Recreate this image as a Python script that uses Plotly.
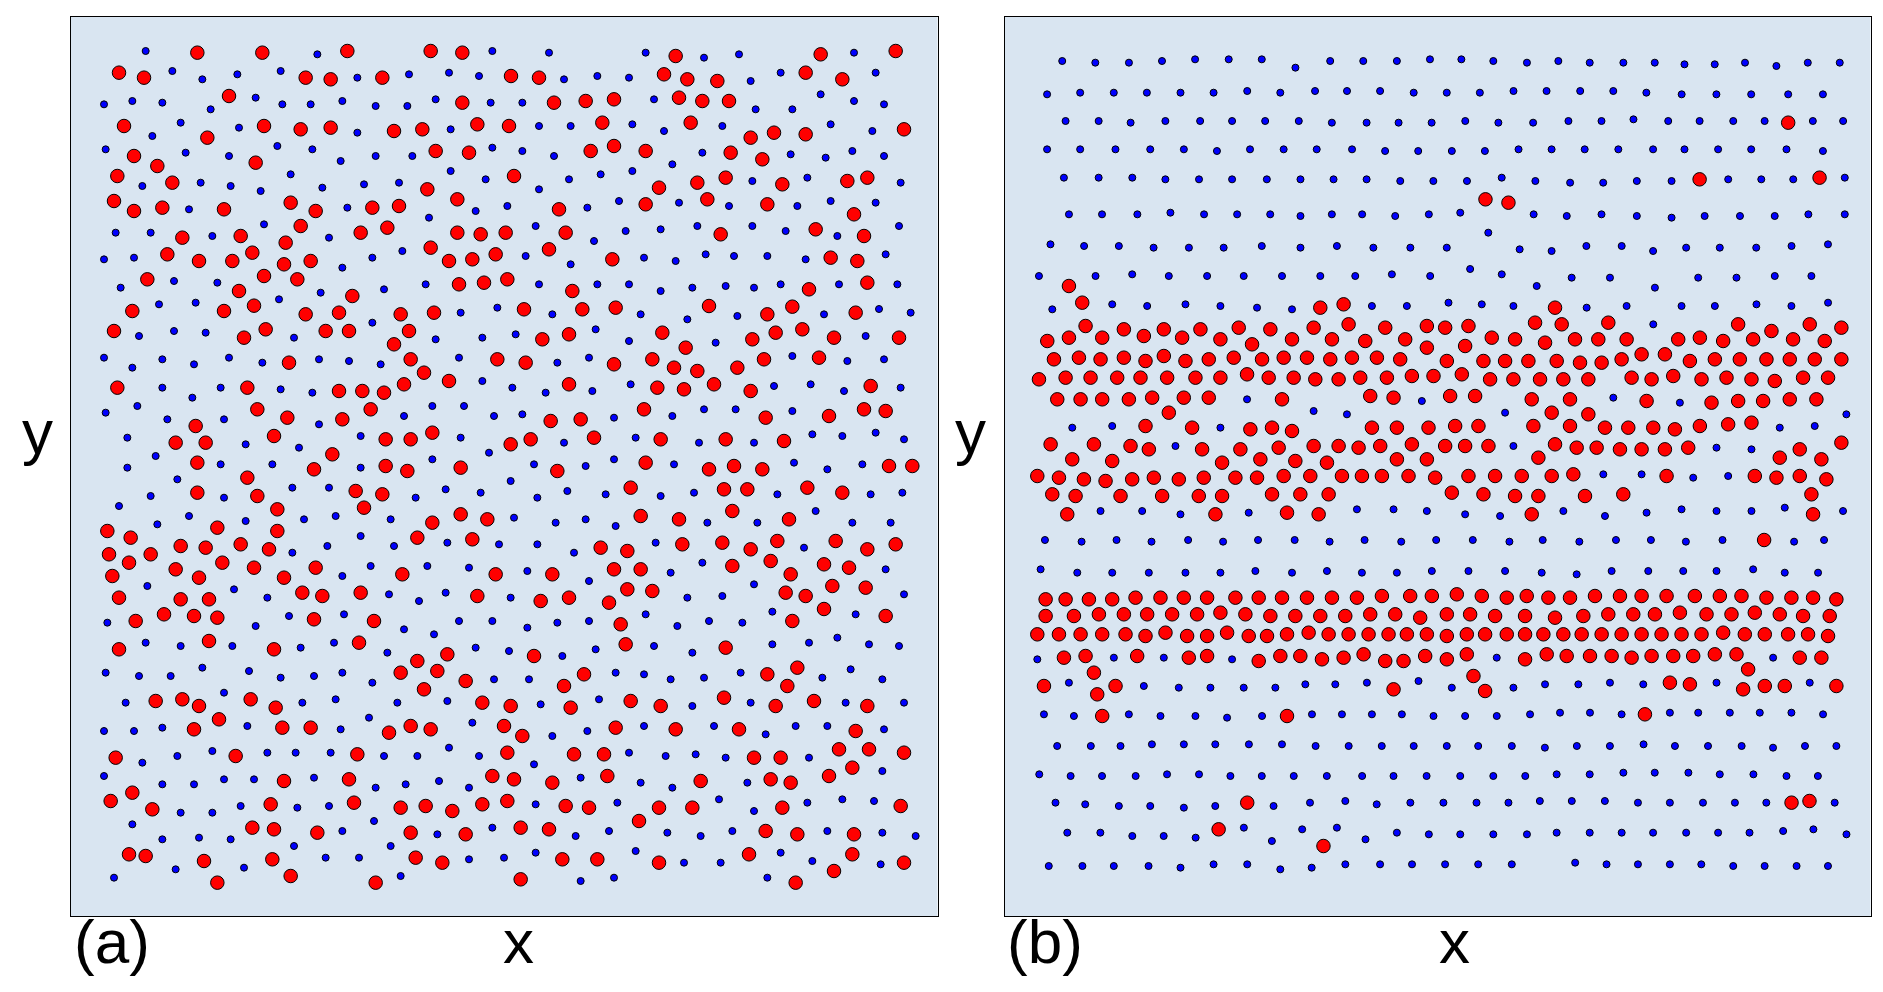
import plotly.graph_objects as go

# values, grouped by the crop they were read from
# (local crop readings, crop origins are in CROPS below)
a_red_nw = [(412,128),(607,128),(862,123),(1112,123),(1207,128),(177,188),(252,203),(737,203),(812,208),(967,203),
    (507,258),(1207,278),(192,348),(612,348),(722,358),(812,353),(1002,363),(1087,358),(1252,343),
    (442,383),(222,438),(1127,423),(1227,428),(292,468),(587,458),(172,498),(337,518),(1102,538),(1192,568),
    (162,573),(222,603),(307,593),(492,598),(692,578),(767,603),(937,593),(1017,588),
    (722,648),(982,653),(367,683),(542,678),(677,698),(902,668),(1192,668),(1262,673),
    (322,733),(577,728),(417,753),(517,753),(672,763),(752,753),(1112,713),(1167,753),(1237,748),(1307,733),
    (262,808),(612,798),(712,808),(537,843),(877,858),(1197,823),(1272,818),(582,887)]
a_blue_nw = [(257,123),(772,133),(1297,123),(337,183),(427,208),(532,193),(662,183),(892,203),(1047,193),(1167,188),(1257,198),
    (132,283),(217,273),(307,278),(452,298),(587,263),(667,283),(752,283),(847,273),(947,288),(1042,288),(1127,268),(1292,278),
    (362,338),(277,378),(537,353),(892,368),(1172,358),(137,418),(377,428),(507,438),(652,408),(757,418),(842,453),(947,438),(1057,438),(1297,413),
    (692,493),(1172,483),(1277,508),(247,528),(422,518),(512,528),(602,543),(787,533),(912,523),(1017,518),
    (387,598),(862,593),(1247,603),(612,643),(1107,623),(167,668),(272,668),(457,678),(807,683),
    (132,748),(222,743),(937,743),(1027,723),(847,773),(342,813),(182,833),(472,818),(782,848),(972,838),(1097,823),
    (297,883),(407,878),(657,868),(1312,893)]
a_red_ne = [(527,138),(962,133),(1187,123),(33,198),(117,203),(492,193),(562,208),(652,213),(917,188),(1027,208),
    (162,278),(257,273),(342,268),(537,263),(607,273),(687,273),(27,348),(307,338),(572,338),(752,383),(822,368),(917,373),(1212,358),
    (272,423),(342,408),(437,423),(692,428),(787,448),(42,498),(477,533),(592,518),(677,503),(847,523),(1042,513),(1102,503),
    (177,598),(437,583),(622,568),(802,583),(1062,613),(17,668),(197,668),(662,673),(947,658),(1092,678),
    (147,718),(337,748),(992,743),(1072,753),(22,808),(217,843),(927,838),(1102,818),
    (72,898),(247,898),(347,893),(627,888),(877,890)]
a_blue_ne = [(147,128),(437,128),(612,143),(717,133),(1062,128),(192,208),(292,198),(387,203),(752,213),(842,188),(1127,188),
    (67,278),(462,268),(767,298),(877,298),(962,253),(1062,273),(1152,283),(117,348),(212,348),(397,343),(492,363),(667,348),(992,343),(1117,363),
    (67,423),(162,438),(607,428),(872,433),(977,443),(1057,423),(1152,438),(517,463),(397,483),(302,493),(207,508),(117,538),(757,513),(922,503),(1202,518),
    (22,588),(262,593),(357,573),(537,578),(687,588),(892,588),(992,573),(1127,578),(107,648),(377,663),(482,658),(592,648),(757,648),(857,663),(1012,678),(1197,648),
    (282,693),(77,738),(212,763),(432,743),(527,753),(617,733),(702,738),(802,738),(917,748),(1157,733),
    (117,823),(292,823),(387,823),(482,843),(577,833),(677,828),(762,833),(842,823),(1017,823),(1192,823),(1137,897)]
a_red_w = [(217,3),(492,3),(737,13),(837,8),(1022,13),(1122,8),(162,63),(552,83),(617,58),(797,63),(867,63),(1047,63),(1002,103),
    (687,158),(1052,148),(1092,188),(1312,148),(1167,213),(172,233),(562,233),(837,243),(907,243),(972,248),(1032,223),
    (592,298),(932,298),(682,323),(847,328),(407,348),(642,378),(347,398),(437,398),(977,388),(1052,388),(1117,368),
    (817,433),(412,458),(977,468),(762,478),(1042,483),(1202,473),(562,503),(412,548),(887,543),(967,553),(592,558),
    (652,598),(912,593),(1202,613),(1117,638),(1282,628),(142,663),(472,653),(652,663),(212,683),(1072,683),(1237,688),
    (147,733),(272,733),(362,708),(437,713),(542,703),(627,718),(207,758),(487,758),(582,773),(767,773),(347,778),(157,798),(417,803),(672,803),(1027,793),(1307,793),
    (177,863),(362,868),(447,868),(727,848),(787,858),(902,848),(1252,858)]
a_blue_w = [(1202,8),(937,38),(237,78),(342,63),(437,68),(702,83),(1127,88),(1267,83),(132,143),(217,173),(307,148),(402,163),(507,143),(607,158),(777,148),(867,153),(962,163),(1197,143),
    (307,233),(482,233),(662,238),(757,248),(1267,213),(397,263),(137,308),(232,288),(1117,288),(1212,288),(1032,318),(1302,318),
    (322,328),(492,328),(777,343),(202,383),(557,403),(717,413),(902,378),(1202,383),(287,438),(1287,428),
    (202,473),(482,463),(637,463),(902,473),(1117,448),(352,508),(697,533),(807,533),(1157,538),(1262,548),
    (272,558),(492,563),(1067,563),(177,588),(387,618),(292,643),(557,633),(732,628),(827,618),(992,628),
    (902,678),(802,708),(1002,708),(1162,698),(1317,703),(697,728),(932,768),(1102,768),(1227,773),(847,798),
    (262,828),(522,838),(622,863),(987,853),(1077,873),(1157,848)]
a_red_e = [(802,13),(1067,8),(127,88),(207,73),(487,68),(757,88),(827,68),(907,58),(1002,83),(1197,83),(557,113),
    (77,158),(342,163),(457,148),(522,173),(592,183),(712,173),(792,148),(957,143),(207,223),(472,233),(552,238),(642,223),(752,243),(1112,228),
    (432,298),(152,333),(242,328),(797,323),(987,318),(1092,298),(1157,303),(32,403),(92,388),(282,383),(482,388),(677,388),(852,393),
    (172,483),(437,458),(627,478),(702,468),(787,478),(1167,468),(1237,468),(392,533),(672,538),(742,538),(922,533),(1027,548),
    (422,618),(537,628),(697,603),(867,628),(302,713),(382,723),(547,703),(667,698),(752,718),(832,693),(1007,693),(1102,718),(1187,703),
    (342,778),(422,778),(157,793),(697,768),(812,753),(972,763),(1047,773),(872,793),
    (382,838),(457,843),(122,873),(207,863),(327,878),(857,848),(917,858),(997,828),(1097,833),(972,897)]
a_blue_e = [(157,13),(422,13),(562,28),(712,18),(972,13),(1232,8),(47,73),(287,58),(387,93),(647,98),(1097,78),
    (172,158),(267,143),(877,138),(1042,153),(1152,148),(37,233),(137,248),(277,243),(392,223),(822,228),(932,223),(1032,243),(1202,233),
    (67,313),(342,323),(517,318),(612,298),(707,298),(877,303),(192,398),(407,383),(597,398),(762,398),(937,373),(1027,378),(1127,368),(1212,388),
    (102,463),(257,468),(342,448),(522,463),(882,458),(982,478),(1087,463),(32,513),(112,563),(202,543),(317,553),(482,558),(582,548),(832,553),(1112,553),(1207,548),
    (42,623),(167,638),(257,628),(347,648),(622,638),(772,638),(947,603),(1057,638),(1172,638),(112,703),(222,728),(467,698),(912,713),
    (82,783),(267,813),(512,788),(607,758),(1157,778),(32,863),(562,863),(667,858),(762,823),(1212,853)]
a_red_sw = [(312,13),(402,18),(472,23),(227,33),(762,28),(942,33),(177,118),(447,93),(642,118),(897,98),
    (1072,153),(1162,133),(1132,183),(1022,188),(1217,213),(1092,238),(287,273),(367,268),(417,288),(572,268),(647,293),(1267,278),
    (477,328),(402,358),(667,353),(752,353),(987,368),(1052,348),(1112,358),(1332,348),(167,443),(527,438),(892,433),
    (672,513),(867,508),(1297,498),(217,548),(152,573),(277,598),(632,583),(882,578),(1022,593),(1097,588),(1177,603),(1267,583),
    (577,653),(642,658),(772,668),(1052,668),(1217,673),(207,733),(257,738),(432,753),(637,748),(1067,743),(1147,758),
    (692,798),(472,818),(947,818)]
a_blue_sw = [(142,38),(587,48),(687,18),(852,13),(1032,58),(1122,73),(1197,33),(1297,33),(257,98),(362,108),(517,108),(722,113),(822,98),(982,128),(1247,113),
    (137,188),(237,198),(332,198),(427,173),(567,183),(662,203),(762,198),(847,188),(937,218),(1302,208),(197,278),(492,248),(727,278),(827,268),(1012,278),(1162,273),
    (132,363),(222,363),(307,353),(562,348),(842,358),(927,323),(1237,338),(352,438),(247,458),(457,423),(622,428),(707,428),(812,428),(972,438),(1072,438),(1167,413),(1257,438),
    (132,498),(307,523),(402,523),(492,508),(582,508),(762,503),(947,533),(1037,523),(1137,513),(1227,533),(362,608),(457,608),(542,588),(712,593),(807,588),(942,633),(1297,653),
    (217,643),(307,688),(417,683),(512,688),(847,663),(1132,673),(702,708),(992,708),(347,778),(552,773),(797,743),(897,743),(1227,748),(1332,743),(162,803),(1022,798)]
a_red_se = [(362,43),(877,33),(1157,18),(102,138),(377,103),(677,113),(252,193),(192,228),(802,193),(892,173),(862,228),
    (32,288),(212,293),(392,273),(482,288),(672,263),(827,288),(942,273),(1102,288),(67,378),(347,353),(527,358),(717,358),(1067,363),
    (22,428),(222,433),(312,433),(762,443),(842,443),(1017,418),(1107,418),(1212,428),(42,508),(157,518),(322,498),(602,513),(812,508),(872,518),(987,498),(1057,473),
    (22,573),(197,588),(267,593),(477,593),(577,593),(847,593),(1202,588),(62,653),(147,658),(417,633),(797,663),(892,673),(1062,673),
    (187,748),(292,748),(477,758),(747,733),(1057,733),(1212,758),(62,808),(887,818),(1002,783)]
a_blue_se = [(82,53),(172,38),(267,33),(437,13),(532,48),(627,33),(727,38),(817,5),(1067,13),(27,123),(187,138),(287,118),(462,108),(577,128),(817,103),(927,98),(1012,83),(1107,103),(1197,108),
    (87,208),(347,188),(432,193),(512,208),(612,203),(722,188),(967,203),(1052,178),(1147,208),(122,283),(297,268),(577,288),(752,278),(1037,278),(1212,278),
    (157,378),(262,363),(432,348),(642,348),(797,373),(887,348),(982,348),(1152,358),(102,463),(387,428),(497,438),(587,433),(677,443),(927,443),
    (242,503),(422,518),(517,533),(742,518),(1147,483),(107,583),(352,578),(657,568),(762,603),(922,578),(1027,568),(1122,573),
    (227,678),(327,663),(502,668),(602,678),(697,663),(982,663),(1147,668),(1247,678),(107,728),(407,723),(552,758),(662,758),(842,728),(937,753),(1142,763),
    (242,813),(342,803),(802,803)]

b_red_top = [(1406,338),(1248,508),(1462,503),(866,568),(907,578)]
b_blue_top = [(111,153),(170,158),(230,158),(289,153),(348,148),(408,148),(467,148),(527,173),(589,153),(648,153),(708,153),(767,148),(823,148),(880,153),(940,158),(996,153),(1052,158),(1112,158),(1168,158),(1221,163),(1275,163),(1329,158),(1385,168),(1441,158),(1498,158),
    (84,253),(143,248),(203,248),(262,248),(322,248),(381,248),(441,243),(500,248),(562,243),(619,243),(678,243),(738,248),(797,248),(856,248),(916,243),(975,243),(1035,243),(1094,243),(1153,248),(1216,253),(1278,253),(1340,253),(1406,253),(1468,253),
    (117,333),(176,333),(233,338),(295,333),(357,333),(414,333),(473,333),(533,333),(592,338),(654,338),(711,338),(770,338),(830,333),(889,338),(951,338),(1014,333),(1073,333),(1130,328),(1192,333),(1248,333),(1308,333),(1364,333),(1450,333),(1504,333),
    (84,418),(143,418),(206,418),(268,418),(328,418),(387,423),(446,418),(506,418),(565,418),(628,418),(687,423),(746,423),(806,423),(865,423),(925,418),(984,418),(1043,418),(1103,418),(1165,418),(1221,418),(1281,418),(1340,418),(1403,418),(1468,423),
    (114,503),(176,503),(236,503),(295,508),(355,508),(414,508),(476,508),(536,508),(595,508),(654,508),(714,513),(773,513),(833,513),(895,503),(955,513),(1017,518),(1076,518),(1136,513),(1198,513),(1299,508),(1358,508),(1415,508),(1507,503),
    (123,613),(182,613),(245,613),(304,608),(364,613),(423,613),(482,613),(536,618),(592,613),(646,613),(705,618),(765,613),(821,608),(952,613),(1011,618),(1073,613),(1136,618),(1198,623),(1257,618),(1320,618),(1382,618),(1442,613),(1507,613),
    (90,703),(150,708),(212,708),(274,713),(337,713),(399,713),(467,708),(536,713),(601,708),(666,713),(732,713),(797,713),(871,668),(927,718),(984,723),(1046,708),(1109,708),(1165,723),(1224,713),(1284,713),(1349,713),(1412,708),(1477,703)]
b_red_mid_w = [(207,48),(247,98),(962,113),(1032,103),(257,168),(372,178),(492,178),(602,178),(717,173),(812,178),(942,173),(1047,163),(1157,173),(1282,168),
    (142,213),(207,203),(307,203),(432,198),(547,203),(662,208),(757,223),(877,208),(997,208),(1097,213),(1217,208),(1282,233),
    (162,268),(237,263),(302,268),(372,263),(437,273),(492,258),(557,273),(627,268),(702,263),(787,268),(852,263),(922,263),(992,268),(1057,263),(1132,263),(1202,268),
    (117,328),(197,323),(272,323),(352,323),(422,323),(502,323),(587,323),(662,323),(742,313),(807,323),(882,323),(947,328),(1017,328),(1082,323),(1162,323),(1237,318),(1302,318),
    (172,388),(242,388),(307,388),(387,388),(457,383),(552,383),(627,383),(847,388),(1112,378),(1182,383),(507,428),
    (437,468),(577,473),(752,478),(817,473),(877,483),(1117,473),(1192,473),(1287,473),
    (152,523),(282,523),(392,528),(447,538),(607,538),(722,538),(837,533),(942,528),(1017,528),(1077,533),(1142,528),(1237,523),
    (217,568),(337,573),(667,578),(782,568),(887,573),(982,578),(1192,568),(1282,568),
    (112,618),(177,623),(252,628),(317,633),(397,628),(462,623),(537,628),(612,623),(707,623),(772,623),(852,618),(932,618),(1027,618),(1087,618),(1147,618),(1227,618),(1307,623),
    (157,673),(227,678),(362,678),(487,678),(597,678),(667,678),(817,673),(902,673),(987,673),(202,733),(647,733),(862,728),(957,733)]
b_blue_mid_w = [(117,18),(287,18),(397,13),(507,18),(622,18),(732,18),(847,18),(962,18),(1067,18),(1177,13),(1292,18),
    (157,118),(337,103),(442,108),(557,103),(662,108),(772,113),(877,118),(1117,108),(1222,108),(742,388),(942,423),(1042,433),(1267,393),
    (217,473),(337,468),(662,473),(527,528),(302,723),(427,723),(542,733),(747,728),(1072,718),(1182,718),(1282,723)]
b_red_mid_e = [(347,113),(17,173),(87,168),(287,158),(367,163),(507,158),(897,163),(997,183),(1112,163),(1207,173),
    (77,228),(157,203),(227,208),(317,218),(407,208),(477,208),(562,208),(717,208),(782,203),(852,213),(942,208),(1062,208),(1157,213),
    (22,273),(132,273),(197,273),(267,273),(352,273),(422,278),(487,278),(547,268),(607,253),(677,253),(752,273),(827,268),(902,268),(982,268),(1052,268),(1127,268),(1207,268),
    (67,313),(152,328),(222,328),(302,328),(372,328),(447,328),(577,323),(637,328),(702,318),(787,328),(862,323),(937,328),(1007,333),(1092,323),(1167,323),
    (32,378),(107,378),(277,388),(392,388),(622,393),(817,398),(897,393),(972,393),(1052,388),(1132,388),(337,428),(447,433),
    (47,468),(117,468),(282,468),(392,468),(497,473),(567,473),(642,473),(707,478),(782,468),(867,463),(937,458),
    (17,528),(77,528),(147,528),(347,523),(412,533),(472,533),(542,538),(607,538),(677,538),(747,533),(1207,518),(1082,538),(297,563),(1022,563),(1147,568),
    (87,618),(167,618),(247,618),(337,618),(402,613),(682,618),(947,618),(1012,623),(1082,618),(1162,628),
    (37,668),(132,673),(227,678),(297,678),(437,678),(552,673),(1117,673),(277,733),(1122,733)]
b_blue_mid_e = [(92,-3),(187,13),(292,48),(397,23),(512,23),(647,53),(777,23),(892,23),(1007,18),(1117,18),
    (27,98),(127,103),(222,108),(442,113),(562,108),(727,108),(827,108),(952,103),(1057,108),(1167,98),(642,163),
    (522,383),(722,398),(197,428),(1222,433),(1022,473),(1127,468),(222,528),(832,533),(937,538),(492,613),(607,613),(762,623),(867,618),
    (77,733),(182,738),(372,723),(497,738),(622,728),(727,718),(832,723),(937,723),(1037,713),(1212,723)]
# this row falls between the crops
b_red_gap = [(2295,30)]
b_blue_gap = [(135,30),(245,35),(350,30),(455,35),(565,30),(670,35),(775,30),(885,30),(990,35),(1095,30),(1205,35),(1310,30),(1420,30),(1530,35),(1630,30),(1740,35),(1850,30),(1955,30),(2060,35),(2170,30),(2385,35),(2475,30)]
b_red_low_w = [(137,118),(197,118),(267,118),(337,118),(407,113),(482,113),(552,113),(622,113),(707,113),(777,113),(847,113),(922,113),(997,113),(1072,113),(1147,108),(1232,108),(1297,108),
    (137,168),(222,168),(297,163),(372,163),(442,163),(517,163),(592,163),(662,158),(737,163),(812,168),(887,168),(962,168),(1037,168),(1112,163),(1187,163),(1262,173),
    (112,223),(177,223),(242,223),(307,223),(377,223),(437,228),(497,218),(562,228),(622,228),(682,218),(747,228),(802,228),(862,223),(927,218),(987,223),(1047,223),(1107,223),(1167,223),(1222,223),(1282,223),
    (192,293),(257,288),(412,288),(567,293),(622,288),(777,303),(842,288),(902,288),(967,298),(1032,293),(1092,283),(1157,303),(1212,303),(1277,288),
    (282,338),(132,378),(347,378),(292,403),(1182,388),(307,468),(862,468)]
b_blue_low_w = [(122,28),(232,38),(337,38),(447,38),(557,38),(662,38),(767,33),(877,38),(982,33),(1087,38),(1192,38),(1297,33),
    (112,298),(342,293),(492,293),(697,298),(207,368),(432,378),(537,383),(632,383),(732,383),(827,383),(917,373),(1007,373),(1102,368),(1257,363),
    (132,463),(222,468),(387,463),(482,468),(587,468),(682,473),(787,468),(937,463),(1027,463),(1117,463),(1207,463),(1302,468)]
b_red_low_e = [(52,103),(127,108),(202,113),(262,108),(327,113),(392,113),(467,108),(542,108),(607,108),(682,108),(767,108),(842,108),(907,108),(982,113),(1057,113),(1122,113),(1192,118),
    (22,163),(92,163),(167,168),(257,168),(347,173),(432,168),(507,163),(582,163),(647,163),(722,158),(802,163),(877,163),(947,158),(1022,163),(1092,168),(1172,168),
    (22,228),(82,223),(137,223),(202,223),(257,223),(312,223),(372,223),(427,223),(487,223),(547,223),(607,223),(667,223),(727,223),(787,223),(852,218),(917,223),(977,223),(1047,223),(1107,223),(1167,228),
    (22,298),(82,283),(257,298),(322,283),(382,288),(452,288),(517,288),(577,293),(637,288),(702,288),(762,288),(827,283),(892,283),(1082,293),(1147,293),
    (102,348),(927,328),(137,393),(692,368),(752,373),(912,388),(977,378),(1037,378),(1192,378),(617,463)]
b_blue_low_e = [(87,33),(197,33),(307,38),(412,43),(517,33),(627,33),(732,33),(832,33),(942,28),(1037,38),(1137,38),
    (172,293),(1002,293),(37,383),(222,383),(317,373),(417,373),(512,368),(612,373),(832,368),(1112,368),
    (77,468),(172,468),(272,463),(362,458),(452,458),(547,463),(692,458),(777,458),(872,458),(962,458),(1057,458),(1152,463)]
b_red_bottom = [(441,248),(1412,248),(1444,243),(390,328),(577,378)]
b_blue_bottom = [(102,78),(162,78),(215,78),(271,73),(328,73),(384,73),(444,73),(503,73),(563,78),(622,78),(681,78),(738,78),(797,78),(853,78),(913,78),(972,83),(1029,78),(1088,78),(1148,73),(1204,78),(1263,78),(1323,78),(1379,83),(1436,78),(1492,78),
    (70,163),(126,168),(182,168),(242,168),(298,163),(355,163),(411,168),(467,168),(524,168),(583,168),(646,168),(702,168),(761,168),(821,168),(880,168),(937,168),(993,163),(1052,163),(1112,158),(1168,158),(1228,158),(1284,163),(1344,163),(1403,168),(1459,168),
    (99,248),(152,253),(212,258),(268,258),(328,263),(384,258),(488,258),(553,248),(616,243),(672,253),(732,248),(791,248),(850,248),(907,248),(963,243),(1020,243),(1079,243),(1138,248),(1195,248),(1254,248),(1311,248),(1367,248),(1489,248),
    (120,338),(179,338),(236,348),(292,348),(349,353),(435,323),(485,363),(539,328),(601,323),(652,358),(708,338),(765,343),(821,343),(880,343),(940,343),(993,338),(1052,338),(1109,338),(1165,338),(1224,338),(1281,338),(1337,338),(1397,333),(1451,328),(1510,343),
    (87,438),(147,438),(203,438),(265,438),(322,443),(381,433),(441,433),(500,448),(556,443),(616,433),(678,433),(735,433),(794,433),(853,433),(913,433),(1026,428),(1082,433),(1138,433),(1195,433),(1251,433),(1308,438),(1364,438),(1421,438),(1477,438)]

# the page body has an 8px margin, so the figure sits 8px in from the window corner
PAGE = 8
W, H = 1883 - 2 * PAGE, 992 - 2 * PAGE
SX_WIDE = 1568 / 880  # the wide crops were shrunk horizontally
PANEL_A = (70.5 - PAGE, 937.5 - PAGE)
PANEL_B = (1004.5 - PAGE, 1870.5 - PAGE)
TOP, BOTTOM = 16.5 - PAGE, 916.0 - PAGE
BG = "#d9e5f1"

# (readings, crop left, crop top, x scale)
CROPS_A = {
    "red": [(a_red_nw, 60, 10, 3), (a_red_ne, 500, 10, 3), (a_red_w, 60, 310, 3),
            (a_red_e, 500, 310, 3), (a_red_sw, 60, 610, 3), (a_red_se, 500, 610, 3)],
    "blue": [(a_blue_nw, 60, 10, 3), (a_blue_ne, 500, 10, 3), (a_blue_w, 60, 310, 3),
             (a_blue_e, 500, 310, 3), (a_blue_sw, 60, 610, 3), (a_blue_se, 500, 610, 3)],
}
CROPS_B = {
    "red": [(b_red_top, 1000, 10, SX_WIDE), (b_red_mid_w, 1000, 270, 3), (b_red_mid_e, 1440, 270, 3),
            (b_red_gap, 1000, 530, 3), (b_red_low_w, 1000, 560, 3), (b_red_low_e, 1440, 560, 3),
            (b_red_bottom, 1000, 720, SX_WIDE)],
    "blue": [(b_blue_top, 1000, 10, SX_WIDE), (b_blue_mid_w, 1000, 270, 3), (b_blue_mid_e, 1440, 270, 3),
             (b_blue_gap, 1000, 530, 3), (b_blue_low_w, 1000, 560, 3), (b_blue_low_e, 1440, 560, 3),
             (b_blue_bottom, 1000, 720, SX_WIDE)],
}


def collect(crops, left):
    xs, ys = [], []
    for pts, cx, cy, sx in crops:
        for px, py in pts:
            xs.append(cx + px / sx - PAGE - left)
            ys.append(BOTTOM - (cy + py / 3 - PAGE))
    return xs, ys


fig = go.Figure()
for crops, left, xa, ya in [(CROPS_A, PANEL_A[0], "x", "y"), (CROPS_B, PANEL_B[0], "x2", "y2")]:
    xs, ys = collect(crops["blue"], left)
    fig.add_trace(go.Scatter(x=xs, y=ys, mode="markers", xaxis=xa, yaxis=ya, showlegend=False,
                             marker=dict(color="#0000ff", size=7, line=dict(color="black", width=1))))
    xs, ys = collect(crops["red"], left)
    fig.add_trace(go.Scatter(x=xs, y=ys, mode="markers", xaxis=xa, yaxis=ya, showlegend=False,
                             marker=dict(color="#ff0000", size=13.5, line=dict(color="black", width=1))))

axis = dict(showgrid=False, zeroline=False, showticklabels=False, ticks="",
            showline=True, mirror=True, linecolor="black", linewidth=1)
span_x = PANEL_A[1] - PANEL_A[0]
span_y = BOTTOM - TOP
fig.update_layout(
    width=W, height=H, margin=dict(l=0, r=0, t=0, b=0), paper_bgcolor="white", plot_bgcolor=BG,
    xaxis=dict(axis, domain=[PANEL_A[0] / W, PANEL_A[1] / W], range=[0, span_x]),
    yaxis=dict(axis, domain=[1 - BOTTOM / H, 1 - TOP / H], range=[0, span_y]),
    xaxis2=dict(axis, domain=[PANEL_B[0] / W, PANEL_B[1] / W], range=[0, span_x]),
    yaxis2=dict(axis, domain=[1 - BOTTOM / H, 1 - TOP / H], range=[0, span_y], anchor="x2"),
)
fig.layout.xaxis2.anchor = "y2"

labels = [("y", 29, 424), ("x", 511, 933), ("(a)", 104, 933), ("y", 962, 424), ("x", 1446, 933), ("(b)", 1037, 933)]
for text, x, y in labels:
    fig.add_annotation(text=text, x=x / W, y=1 - y / H, xref="paper", yref="paper", showarrow=False,
                       xanchor="center", yanchor="middle",
                       font=dict(family="Liberation Sans", size=62, color="black"))

fig.write_html("out.html")
